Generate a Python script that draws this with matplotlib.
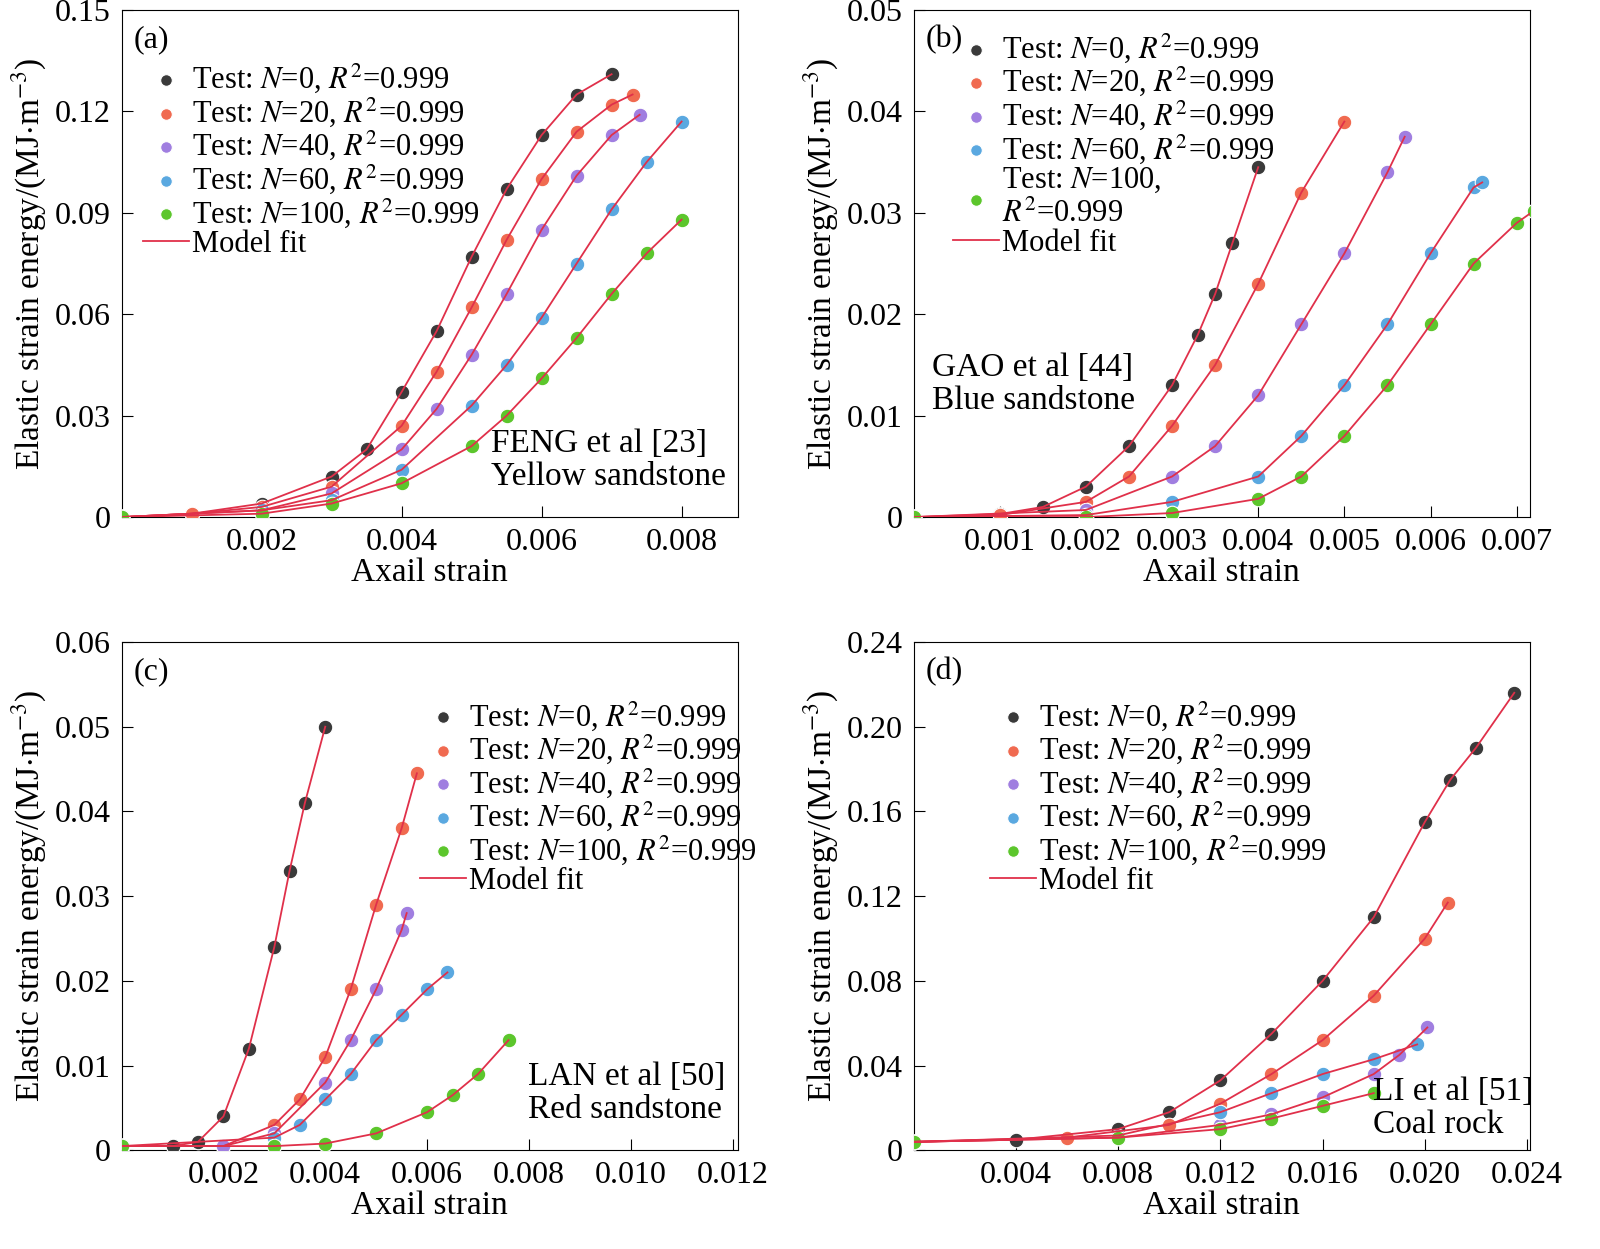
import matplotlib
matplotlib.use("Agg")
import matplotlib.pyplot as plt
from matplotlib.ticker import FuncFormatter

plt.rcParams["font.family"] = ["Liberation Serif", "DejaVu Serif"]
plt.rcParams["mathtext.fontset"] = "stix"

COLORS = ["#3a3a3a", "#f06a50", "#a07ee0", "#5aa8e0", "#5cc62c"]
FIT = "#e0304a"
CYCLES = ["0", "20", "40", "60", "100"]

# (a) FENG et al, yellow sandstone
a_x = [
    [0, 0.001, 0.002, 0.003, 0.0035, 0.004, 0.0045, 0.005, 0.0055, 0.006, 0.0065, 0.007],
    [0, 0.001, 0.002, 0.003, 0.004, 0.0045, 0.005, 0.0055, 0.006, 0.0065, 0.007, 0.0073],
    [0, 0.002, 0.003, 0.004, 0.0045, 0.005, 0.0055, 0.006, 0.0065, 0.007, 0.0074],
    [0, 0.002, 0.003, 0.004, 0.005, 0.0055, 0.006, 0.0065, 0.007, 0.0075, 0.008],
    [0, 0.002, 0.003, 0.004, 0.005, 0.0055, 0.006, 0.0065, 0.007, 0.0075, 0.008],
]
a_y = [
    [0, 0.001, 0.004, 0.012, 0.02, 0.037, 0.055, 0.077, 0.097, 0.113, 0.125, 0.131],
    [0, 0.001, 0.003, 0.009, 0.027, 0.043, 0.062, 0.082, 0.1, 0.114, 0.122, 0.125],
    [0, 0.002, 0.007, 0.02, 0.032, 0.048, 0.066, 0.085, 0.101, 0.113, 0.119],
    [0, 0.002, 0.005, 0.014, 0.033, 0.045, 0.059, 0.075, 0.091, 0.105, 0.117],
    [0, 0.001, 0.004, 0.01, 0.021, 0.03, 0.041, 0.053, 0.066, 0.078, 0.088],
]
# (b) GAO et al, blue sandstone
b_x = [
    [0, 0.001, 0.0015, 0.002, 0.0025, 0.003, 0.0033, 0.0035, 0.0037, 0.004],
    [0, 0.001, 0.002, 0.0025, 0.003, 0.0035, 0.004, 0.0045, 0.005],
    [0, 0.002, 0.003, 0.0035, 0.004, 0.0045, 0.005, 0.0055, 0.0057],
    [0, 0.002, 0.003, 0.004, 0.0045, 0.005, 0.0055, 0.006, 0.0065, 0.0066],
    [0, 0.002, 0.003, 0.004, 0.0045, 0.005, 0.0055, 0.006, 0.0065, 0.007, 0.0072],
]
b_y = [
    [0, 0.0003, 0.001, 0.003, 0.007, 0.013, 0.018, 0.022, 0.027, 0.0345],
    [0, 0.0002, 0.0015, 0.004, 0.009, 0.015, 0.023, 0.032, 0.039],
    [0, 0.0007, 0.004, 0.007, 0.012, 0.019, 0.026, 0.034, 0.0375],
    [0, 0.0002, 0.0015, 0.004, 0.008, 0.013, 0.019, 0.026, 0.0325, 0.033],
    [0, 0.0, 0.0004, 0.0018, 0.004, 0.008, 0.013, 0.019, 0.025, 0.029, 0.0302],
]
# (c) LAN et al, red sandstone
c_x = [
    [0, 0.001, 0.0015, 0.002, 0.0025, 0.003, 0.0033, 0.0036, 0.004],
    [0, 0.002, 0.003, 0.0035, 0.004, 0.0045, 0.005, 0.0055, 0.0058],
    [0, 0.002, 0.003, 0.004, 0.0045, 0.005, 0.0055, 0.0056],
    [0, 0.003, 0.0035, 0.004, 0.0045, 0.005, 0.0055, 0.006, 0.0064],
    [0, 0.003, 0.004, 0.005, 0.006, 0.0065, 0.007, 0.0076],
]
c_y = [
    [0.0005, 0.0005, 0.001, 0.004, 0.012, 0.024, 0.033, 0.041, 0.05],
    [0.0005, 0.0005, 0.003, 0.006, 0.011, 0.019, 0.029, 0.038, 0.0445],
    [0.0005, 0.0005, 0.002, 0.008, 0.013, 0.019, 0.026, 0.028],
    [0.0005, 0.0015, 0.003, 0.006, 0.009, 0.013, 0.016, 0.019, 0.021],
    [0.0005, 0.0005, 0.0008, 0.002, 0.0045, 0.0065, 0.009, 0.013],
]
# (d) LI et al, coal rock
d_x = [
    [0, 0.004, 0.008, 0.01, 0.012, 0.014, 0.016, 0.018, 0.02, 0.021, 0.022, 0.0235],
    [0, 0.006, 0.01, 0.012, 0.014, 0.016, 0.018, 0.02, 0.0209],
    [0, 0.008, 0.012, 0.014, 0.016, 0.018, 0.019, 0.0201],
    [0, 0.008, 0.012, 0.014, 0.016, 0.018, 0.0197],
    [0, 0.008, 0.012, 0.014, 0.016, 0.018],
]
d_y = [
    [0.004, 0.005, 0.01, 0.018, 0.033, 0.055, 0.08, 0.11, 0.155, 0.175, 0.19, 0.216],
    [0.004, 0.006, 0.012, 0.022, 0.036, 0.052, 0.073, 0.1, 0.117],
    [0.004, 0.006, 0.012, 0.017, 0.025, 0.036, 0.045, 0.058],
    [0.004, 0.007, 0.018, 0.027, 0.036, 0.043, 0.05],
    [0.004, 0.006, 0.01, 0.015, 0.021, 0.027],
]

panels = [
    dict(tag="(a)", xs=a_x, ys=a_y, xlim=0.0088, xt=[0.002, 0.004, 0.006, 0.008],
         ylim=0.15, yt=[0, 0.03, 0.06, 0.09, 0.12, 0.15],
         src="FENG et al [23]\nYellow sandstone", src_pos=(0.6, 0.05),
         leg=(0.0, 0.94), wrap=False),
    dict(tag="(b)", xs=b_x, ys=b_y, xlim=0.00715, xt=[0.001 * i for i in range(1, 8)],
         ylim=0.05, yt=[0, 0.01, 0.02, 0.03, 0.04, 0.05],
         src="GAO et al [44]\nBlue sandstone", src_pos=(0.03, 0.2),
         leg=(0.03, 1.0), wrap=True),
    dict(tag="(c)", xs=c_x, ys=c_y, xlim=0.0121, xt=[0.002 * i for i in range(1, 7)],
         ylim=0.06, yt=[0, 0.01, 0.02, 0.03, 0.04, 0.05, 0.06],
         src="LAN et al [50]\nRed sandstone", src_pos=(0.66, 0.05),
         leg=(0.45, 0.93), wrap=False),
    dict(tag="(d)", xs=d_x, ys=d_y, xlim=0.0241, xt=[0.004 * i for i in range(1, 7)],
         ylim=0.24, yt=[0, 0.04, 0.08, 0.12, 0.16, 0.2, 0.24],
         src="LI et al [51]\nCoal rock", src_pos=(0.745, 0.02),
         leg=(0.09, 0.93), wrap=False),
]

fig = plt.figure(figsize=(16, 12.49), dpi=100)
rects = [
    [0.076, 0.586, 0.385, 0.406],
    [0.571, 0.586, 0.385, 0.406],
    [0.076, 0.079, 0.385, 0.407],
    [0.571, 0.079, 0.385, 0.407],
]

for rect, p in zip(rects, panels):
    ax = fig.add_axes(rect)
    for i, (x, y) in enumerate(zip(p["xs"], p["ys"])):
        lab = rf"Test: $N$={CYCLES[i]}, $R^2$=0.999"
        if p["wrap"] and i == 4:
            lab = f"Test: $N$={CYCLES[i]},\n$R^2$=0.999"
        ax.scatter(x, y, s=110, color=COLORS[i], edgecolor="white", linewidth=0.8,
                   zorder=3, label=lab)
    for x, y in zip(p["xs"], p["ys"]):
        ax.plot(x, y, color=FIT, lw=1.3, zorder=4)
    ax.plot([], [], color=FIT, lw=1.3, label="Model fit")
    ax.set_xlim(0, p["xlim"])
    ax.set_ylim(0, p["ylim"])
    ax.set_xticks(p["xt"])
    ax.set_yticks(p["yt"])
    ax.xaxis.set_major_formatter(FuncFormatter(lambda v, _: "%.3f" % v))
    ax.yaxis.set_major_formatter(FuncFormatter(lambda v, _: "0" if v == 0 else "%.2f" % v))
    ax.tick_params(direction="in", length=8, labelsize=23, pad=8)
    ax.set_xlabel("Axail strain", fontsize=24, labelpad=0)
    ax.set_ylabel(r"Elastic strain energy/(MJ$\cdot$m$^{-3}$)", fontsize=24, labelpad=4)
    ax.text(0.02, 0.97, p["tag"], transform=ax.transAxes, fontsize=23, va="top")
    ax.text(p["src_pos"][0], p["src_pos"][1], p["src"], transform=ax.transAxes,
            fontsize=24, ha="left", va="bottom", linespacing=1.1)
    ax.legend(loc="upper left", bbox_to_anchor=p["leg"], frameon=False, fontsize=22,
              handletextpad=0.1, labelspacing=0.0, borderpad=0.2, handlelength=1.5,
              markerscale=0.8)

fig.savefig("out.png", dpi=100)
